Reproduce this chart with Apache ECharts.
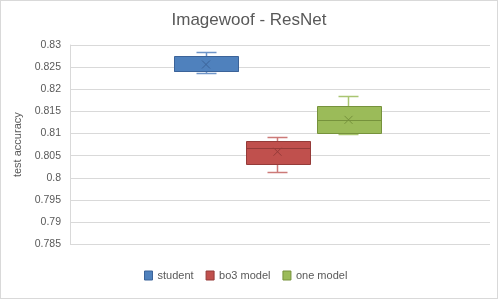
<!DOCTYPE html>
<html>
<head>
<meta charset="utf-8">
<script src="https://cdn.jsdelivr.net/npm/echarts@6/dist/echarts.min.js"></script>
<style>
html,body{margin:0;padding:0;background:#fff;}
#c{width:498px;height:299px;box-sizing:border-box;border:1px solid #d9d9d9;}
</style>
</head>
<body>
<div id="c"></div>
<script>
// ---- data ----
const seriesNames = ['student', 'bo3 model', 'one model'];
// [min, Q1, median, Q3, max]
const boxStudent = [0.8236, 0.8240, 0.8241, 0.8275, 0.8282];
const boxBo3 = [0.8011, 0.8031, 0.8067, 0.8082, 0.8091];
const boxOne = [0.8097, 0.8101, 0.8130, 0.8162, 0.8183];
const meanValues = [0.8256, 0.8059, 0.8131];
const yMin = 0.785, yMax = 0.83, yStep = 0.005;

// ---- styles ----
const fills = ['#4F81BD', '#C0504D', '#9BBB59'];
const borders = ['#3B6399', '#953B39', '#76923C'];
const whisk = ['#6F95C8', '#CC7A78', '#A9C571'];
const boxes = [boxStudent, boxBo3, boxOne];
const centers = [205, 276.5, 347.5];
const plotTop = 44, plotH = 199.3, plotL = 69, plotR = 489;
const boxW = 64, capW = 20, xSize = 4;
const font = 'Liberation Sans';

function crisp(v) { return Math.round(v - 0.5) + 0.5; }

function makeRender(i) {
  return function (params, api) {
    const x = api.value(0);
    const c = api.coord([x, api.value(1)])[0];
    const yv = k => crisp(api.coord([x, api.value(k)])[1]);
    const yMn = yv(1), yQ1 = yv(2), yMd = yv(3), yQ3 = yv(4), yMx = yv(5);
    const yMean = api.coord([x, api.value(6)])[1];
    const cx = crisp(c);
    const left = Math.round(c - boxW / 2) + 0.5, right = left + boxW;
    const ws = {stroke: whisk[i], lineWidth: 1.5};
    const bs = {stroke: borders[i], lineWidth: 1};
    return {
      type: 'group',
      children: [
        {type: 'line', shape: {x1: cx, y1: yMx, x2: cx, y2: yQ3}, style: ws},
        {type: 'line', shape: {x1: cx, y1: yQ1, x2: cx, y2: yMn}, style: ws},
        {type: 'line', shape: {x1: cx - capW / 2, y1: yMx, x2: cx + capW / 2, y2: yMx}, style: ws},
        {type: 'line', shape: {x1: cx - capW / 2, y1: yMn, x2: cx + capW / 2, y2: yMn}, style: ws},
        {type: 'rect', shape: {x: left, y: yQ3, width: boxW, height: yQ1 - yQ3},
          style: {fill: fills[i], stroke: borders[i], lineWidth: 1}},
        {type: 'line', shape: {x1: left, y1: yMd, x2: right, y2: yMd}, style: bs},
        {type: 'line', shape: {x1: c - xSize, y1: yMean - xSize, x2: c + xSize, y2: yMean + xSize}, style: bs},
        {type: 'line', shape: {x1: c + xSize, y1: yMean - xSize, x2: c - xSize, y2: yMean + xSize}, style: bs}
      ]
    };
  };
}

const chart = echarts.init(document.getElementById('c'));
const grid = [{left: plotL, width: plotR - plotL, top: plotTop, height: plotH}];
const xAxis = [{type: 'category', gridIndex: 0, data: [''], show: false}];
const yAxis = [{
  type: 'value', gridIndex: 0, min: yMin, max: yMax, interval: yStep,
  name: 'test accuracy', nameLocation: 'middle', nameGap: 46,
  nameTextStyle: {color: '#595959', fontFamily: font, fontSize: 11},
  axisLine: {show: true, lineStyle: {color: '#d9d9d9'}},
  axisTick: {show: false},
  axisLabel: {color: '#595959', fontFamily: font, fontSize: 10.5, margin: 9,
    formatter: v => String(+v.toFixed(3))},
  splitLine: {lineStyle: {color: '#d9d9d9'}}
}];
const series = [];
boxes.forEach((b, i) => {
  const gi = i + 1;
  grid.push({left: centers[i] - 35.5, width: 71, top: plotTop, height: plotH});
  xAxis.push({type: 'category', gridIndex: gi, data: [seriesNames[i]], show: false});
  yAxis.push({type: 'value', gridIndex: gi, min: yMin, max: yMax, interval: yStep, show: false});
  series.push({
    name: seriesNames[i], type: 'custom', xAxisIndex: gi, yAxisIndex: gi,
    renderItem: makeRender(i),
    itemStyle: {color: fills[i], borderColor: borders[i], borderWidth: 1},
    encode: {x: 0, y: [1, 2, 3, 4, 5, 6]},
    data: [[0].concat(b, [meanValues[i]])]
  });
});

chart.setOption({
  animation: false,
  color: fills,
  title: {text: 'Imagewoof - ResNet', left: 'center', top: 11, padding: 0,
    textStyle: {color: '#595959', fontFamily: font, fontSize: 17, fontWeight: 'normal'}},
  legend: {
    data: seriesNames.map((n, i) => ({name: n, icon: 'rect', itemStyle: {color: fills[i], borderColor: borders[i], borderWidth: 1}})),
    left: 138, top: 264, icon: 'rect', itemWidth: 8, itemHeight: 9, itemGap: 12,
    textStyle: {color: '#595959', fontFamily: font, fontSize: 11}
  },
  grid, xAxis, yAxis, series
});
</script>
</body>
</html>
